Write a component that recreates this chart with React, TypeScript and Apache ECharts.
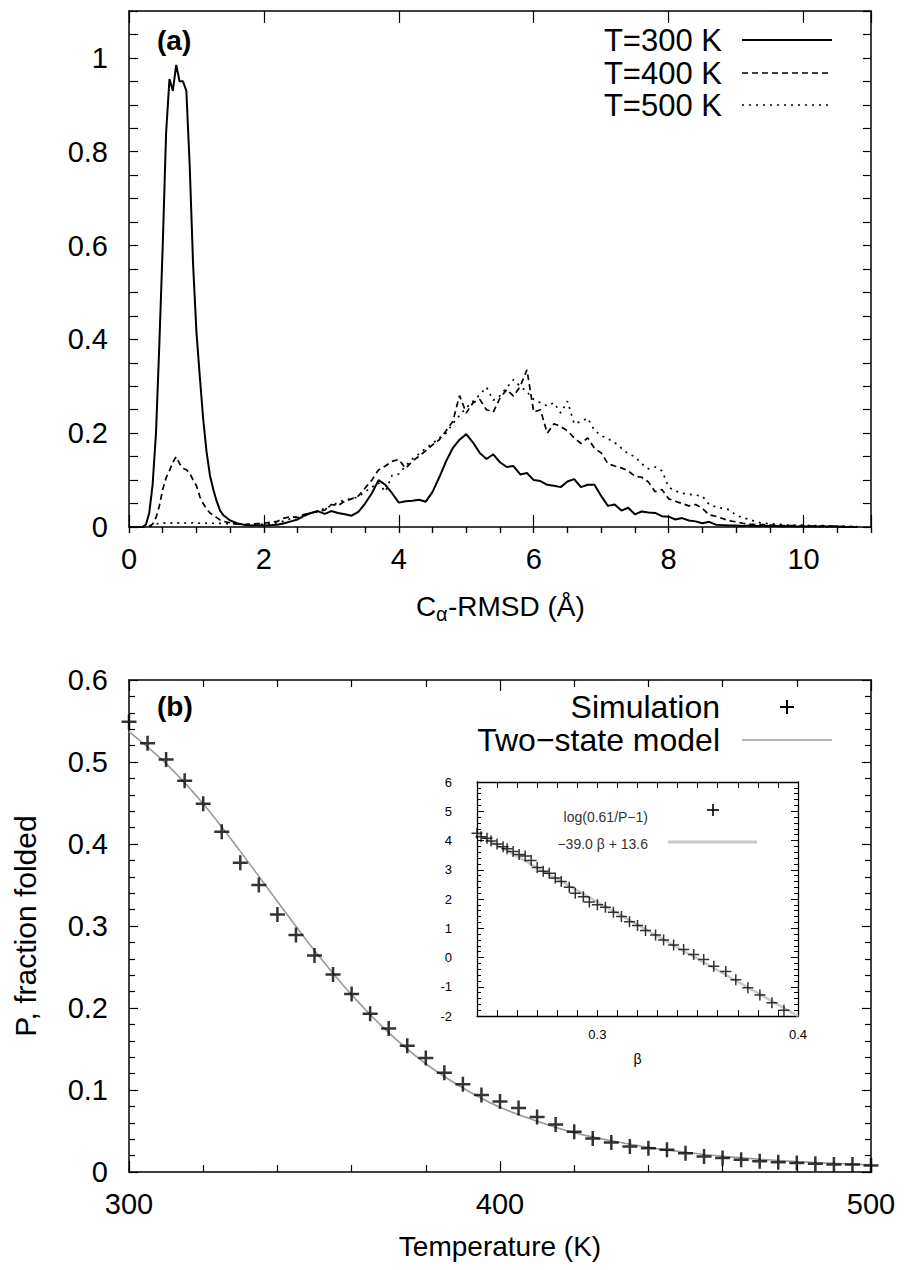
import React, { useEffect, useRef } from "react";
import * as echarts from "echarts";

// ---------- Panel (a): C-alpha RMSD distributions ----------
const rmsd = [
  0.0, 0.1, 0.2, 0.25, 0.3, 0.35, 0.4, 0.45, 0.5, 0.55, 0.6, 0.65, 0.7, 0.75, 0.8, 0.85, 0.9, 0.95,
  1.0, 1.05, 1.1, 1.15, 1.2, 1.25, 1.3, 1.35, 1.4,
  1.5, 1.6, 1.7, 1.8, 1.9, 2.0, 2.1, 2.2, 2.3, 2.4,
  2.5, 2.6, 2.7, 2.8, 2.9, 3.0, 3.1, 3.2, 3.3, 3.4,
  3.5, 3.6, 3.7, 3.8, 3.9, 4.0, 4.1, 4.2, 4.3, 4.4,
  4.5, 4.6, 4.7, 4.8, 4.9, 5.0, 5.1, 5.2, 5.3, 5.4,
  5.5, 5.6, 5.7, 5.8, 5.9, 6.0, 6.1, 6.2, 6.3, 6.4,
  6.5, 6.6, 6.7, 6.8, 6.9, 7.0, 7.1, 7.2, 7.3, 7.4,
  7.5, 7.6, 7.7, 7.8, 7.9, 8.0, 8.1, 8.2, 8.3, 8.4,
  8.5, 8.6, 8.7, 8.8, 8.9, 9.0, 9.1, 9.2, 9.3, 9.4,
  9.5, 9.6, 9.7, 9.8, 9.9, 10.0, 10.1, 10.2, 10.3, 10.4,
  10.5, 10.6, 10.7, 10.8,
];

const dist300 = [
  0, 0, 0, 0.005, 0.03, 0.09, 0.2, 0.39, 0.6, 0.84, 0.955, 0.93, 0.985, 0.95, 0.95, 0.93, 0.77, 0.56,
  0.415, 0.32, 0.23, 0.16, 0.11, 0.08, 0.055, 0.035, 0.025,
  0.014, 0.008, 0.005, 0.003, 0.004, 0.003, 0.004, 0.005, 0.008, 0.012,
  0.016, 0.024, 0.03, 0.034, 0.028, 0.034, 0.03, 0.027, 0.024, 0.032,
  0.05, 0.072, 0.1, 0.09, 0.072, 0.052, 0.055, 0.056, 0.058, 0.054,
  0.075, 0.106, 0.14, 0.168, 0.186, 0.198, 0.18, 0.158, 0.145, 0.155,
  0.138, 0.128, 0.13, 0.112, 0.115, 0.1, 0.098, 0.09, 0.088, 0.085,
  0.097, 0.102, 0.085, 0.09, 0.09, 0.066, 0.045, 0.048, 0.035, 0.041,
  0.027, 0.033, 0.031, 0.03, 0.023, 0.022, 0.016, 0.019, 0.014, 0.012,
  0.008, 0.011, 0.005, 0.004, 0.003, 0.003, 0.002, 0.003, 0.002, 0.002,
  0.002, 0.002, 0.001, 0.002, 0.001, 0.001, 0.001, 0.001, 0.001, 0.001,
  0.001, 0, 0, 0,
];

const dist400 = [
  0, 0, 0, 0, 0.002, 0.006, 0.02, 0.045, 0.08, 0.105, 0.12, 0.138, 0.15, 0.135, 0.125, 0.122, 0.115, 0.1,
  0.088, 0.065, 0.05, 0.039, 0.03, 0.025, 0.02, 0.015, 0.012,
  0.009, 0.006, 0.005, 0.006, 0.007, 0.008, 0.01, 0.012, 0.019, 0.022,
  0.02, 0.027, 0.03, 0.033, 0.036, 0.048, 0.046, 0.055, 0.06, 0.066,
  0.083, 0.1, 0.122, 0.13, 0.14, 0.144, 0.125, 0.14, 0.151, 0.163,
  0.175, 0.186, 0.205, 0.225, 0.28, 0.243, 0.265, 0.272, 0.25, 0.245,
  0.275, 0.293, 0.279, 0.3, 0.335, 0.245, 0.25, 0.2, 0.22, 0.214,
  0.205, 0.19, 0.178, 0.19, 0.168, 0.158, 0.135, 0.13, 0.126, 0.12,
  0.108, 0.106, 0.096, 0.075, 0.08, 0.06, 0.055, 0.05, 0.045, 0.048,
  0.04, 0.026, 0.023, 0.018, 0.013, 0.011, 0.008, 0.006, 0.005, 0.005,
  0.004, 0.004, 0.003, 0.003, 0.003, 0.002, 0.002, 0.002, 0.002, 0.002,
  0.001, 0.001, 0.001, 0,
];

const dist500 = [
  0, 0, 0, 0, 0.001, 0.003, 0.006, 0.008, 0.009, 0.008, 0.009, 0.008, 0.009, 0.008, 0.009, 0.008, 0.008, 0.009,
  0.008, 0.008, 0.009, 0.008, 0.008, 0.008, 0.007, 0.008, 0.007,
  0.007, 0.007, 0.006, 0.005, 0.005, 0.006, 0.007, 0.009, 0.013, 0.018,
  0.022, 0.026, 0.03, 0.033, 0.04, 0.045, 0.052, 0.058, 0.06, 0.064,
  0.075, 0.085, 0.094, 0.075, 0.11, 0.113, 0.13, 0.145, 0.156, 0.168,
  0.178, 0.19, 0.2, 0.22, 0.238, 0.254, 0.268, 0.282, 0.298, 0.27,
  0.28, 0.297, 0.314, 0.3, 0.288, 0.272, 0.265, 0.258, 0.265, 0.243,
  0.268, 0.22, 0.225, 0.232, 0.206, 0.195, 0.188, 0.18, 0.168, 0.156,
  0.15, 0.135, 0.124, 0.128, 0.12, 0.085, 0.077, 0.072, 0.07, 0.068,
  0.066, 0.048, 0.043, 0.04, 0.037, 0.025, 0.02, 0.016, 0.011, 0.008,
  0.007, 0.006, 0.005, 0.004, 0.004, 0.004, 0.003, 0.003, 0.003, 0.002,
  0.002, 0.002, 0.001, 0.001,
];

// ---------- Panel (b): fraction folded vs temperature ----------
const temps = [
  300, 305, 310, 315, 320, 325, 330, 335, 340, 345, 350,
  355, 360, 365, 370, 375, 380, 385, 390, 395, 400,
  405, 410, 415, 420, 425, 430, 435, 440, 445, 450,
  455, 460, 465, 470, 475, 480, 485, 490, 495, 500,
];
const fracFolded = [
  0.549, 0.523, 0.503, 0.477, 0.449, 0.415, 0.377, 0.35, 0.314, 0.289, 0.264,
  0.241, 0.217, 0.193, 0.175, 0.154, 0.139, 0.121, 0.107, 0.094, 0.086,
  0.078, 0.067, 0.058, 0.049, 0.041, 0.036, 0.031, 0.029, 0.027, 0.023,
  0.019, 0.017, 0.015, 0.013, 0.012, 0.011, 0.01, 0.009, 0.009, 0.008,
];
const modelTemps = [300, 310, 320, 330, 340, 350, 360, 370, 380, 390, 400, 410, 420, 430, 440, 450, 460, 470, 480, 490, 500];
const modelFrac = [
  0.537, 0.498, 0.449, 0.391, 0.33, 0.27, 0.216, 0.17, 0.132, 0.1025, 0.079,
  0.062, 0.048, 0.038, 0.03, 0.024, 0.019, 0.0156, 0.0127, 0.0105, 0.0087,
];

// ---------- Inset: log(0.61/P-1) vs beta ----------
const beta = [
  0.24, 0.242, 0.245, 0.247, 0.25, 0.253, 0.255, 0.258, 0.261, 0.264,
  0.267, 0.27, 0.273, 0.276, 0.279, 0.282, 0.286, 0.289, 0.293, 0.296,
  0.3, 0.304, 0.308, 0.312, 0.316, 0.32, 0.324, 0.329, 0.333, 0.338,
  0.343, 0.348, 0.353, 0.358, 0.364, 0.369, 0.375, 0.381, 0.387, 0.393,
];
const logRatio = [
  4.25, 4.13, 4.08, 3.98, 3.88, 3.79, 3.72, 3.62, 3.52, 3.47,
  3.32, 3.08, 2.95, 2.88, 2.72, 2.6, 2.4, 2.2, 2.08, 1.9,
  1.8, 1.72, 1.55, 1.4, 1.22, 1.09, 0.92, 0.77, 0.6, 0.43,
  0.27, 0.1, -0.07, -0.3, -0.48, -0.76, -1.03, -1.28, -1.55, -1.8,
];
const fitBeta = [0.24, 0.4];
const fitValue = [4.24, -2.0];

const legendA = ["T=300 K", "T=400 K", "T=500 K"];
const legendB = ["Simulation", "Two\u2212state model"];
const legendInset = ["log(0.61/P\u22121)", "\u221239.0 \u03b2 + 13.6"];

const FONT = "'Liberation Sans', Arial, Helvetica, sans-serif";
const BLACK = "#000";

const zip = (xs: number[], ys: number[]) => xs.map((x, i) => [x, ys[i]]);

const PLUS_BIG = "path://M6.25,0h2.5v15h-2.5z M0,6.25h15v2.5h-15z";
const PLUS_SMALL = "path://M4.75,0h1.5v11h-1.5z M0,4.75h11v1.5h-11z";

function baseAxis(extra: any) {
  return {
    type: "value",
    splitLine: { show: false },
    axisLine: { show: true, onZero: false, lineStyle: { color: BLACK, width: 1.5 } },
    axisLabel: { show: false },
    ...extra,
  };
}
const tk = (length: number, width = 1.2) => ({ show: true, inside: true, length, lineStyle: { color: BLACK, width } });
const mtk = (splitNumber: number, length: number, width = 1.2) => ({ show: true, splitNumber, length, lineStyle: { color: BLACK, width } });
const thinLine = { show: true, onZero: false, lineStyle: { color: BLACK, width: 1.3 } };

function buildOption() {
  const labelStyle = { color: BLACK, fontSize: 29, fontFamily: FONT };

  const xAxis: any[] = [
    // 0..3: panel (a), all with the same 0..11 scale
    baseAxis({
      gridIndex: 0, min: 0, max: 11, interval: 2,
      axisTick: tk(12),
      axisLabel: { show: true, ...labelStyle, margin: 17, formatter: (v: number) => (v > 10.5 ? "" : String(v)) },
    }),
    baseAxis({ gridIndex: 0, min: 0, max: 11, interval: 0.5, axisLine: { show: false }, axisTick: tk(6) }),
    baseAxis({ gridIndex: 0, position: "top", min: 0, max: 11, interval: 2, axisTick: tk(12) }),
    baseAxis({ gridIndex: 0, position: "top", min: 0, max: 11, interval: 0.5, axisLine: { show: false }, axisTick: tk(6) }),
    // 4,5: panel (b)
    baseAxis({
      gridIndex: 1, min: 300, max: 500, interval: 100,
      axisTick: tk(11),
      minorTick: mtk(5, 7),
      axisLabel: { show: true, ...labelStyle, margin: 17 },
      name: "Temperature (K)",
      nameLocation: "middle",
      nameGap: 60,
      nameTextStyle: { color: BLACK, fontFamily: FONT, fontSize: 28 },
    }),
    baseAxis({ gridIndex: 1, position: "top", min: 300, max: 500, interval: 100, axisTick: tk(11), minorTick: mtk(5, 7) }),
    // 6,7: inset
    baseAxis({
      gridIndex: 2, min: 0.24, max: 0.4, interval: 0.01,
      axisLine: thinLine,
      axisTick: tk(6, 1),
      axisLabel: {
        show: true, color: BLACK, fontSize: 13, fontFamily: FONT, margin: 12,
        formatter: (v: number) => (Math.abs(v - 0.3) < 1e-6 ? "0.3" : Math.abs(v - 0.4) < 1e-6 ? "0.4" : ""),
      },
      name: "\u03b2",
      nameLocation: "middle",
      nameGap: 36,
      nameTextStyle: { color: BLACK, fontFamily: FONT, fontSize: 14 },
    }),
    baseAxis({ gridIndex: 2, position: "top", min: 0.24, max: 0.4, interval: 0.01, axisLine: thinLine, axisTick: tk(6, 1) }),
  ];

  const yAxis: any[] = [
    baseAxis({
      gridIndex: 0, min: 0, max: 1.1, interval: 0.05,
      axisTick: tk(9),
      axisLabel: {
        show: true, ...labelStyle, margin: 21,
        formatter: (v: number) => {
          const r = Math.round(v * 20);
          return r % 4 !== 0 ? "" : String(r / 20);
        },
      },
    }),
    baseAxis({ gridIndex: 0, position: "right", min: 0, max: 1.1, interval: 0.05, axisTick: tk(8) }),
    baseAxis({
      gridIndex: 1, min: 0, max: 0.6, interval: 0.1,
      axisTick: tk(9),
      minorTick: mtk(5, 6),
      axisLabel: { show: true, ...labelStyle, margin: 21 },
      name: "P, fraction folded",
      nameLocation: "middle",
      nameRotate: 90,
      nameGap: 89,
      nameTextStyle: { color: BLACK, fontFamily: FONT, fontSize: 30 },
    }),
    baseAxis({ gridIndex: 1, position: "right", min: 0, max: 0.6, interval: 0.1, axisTick: tk(9), minorTick: mtk(5, 6) }),
    baseAxis({
      gridIndex: 2, min: -2, max: 6, interval: 1,
      axisLine: thinLine,
      axisTick: tk(7, 1),
      minorTick: mtk(5, 4, 1),
      axisLabel: { show: true, color: BLACK, fontSize: 13, fontFamily: FONT, margin: 25 },
    }),
    baseAxis({ gridIndex: 2, position: "right", min: -2, max: 6, interval: 1, axisLine: thinLine, axisTick: tk(7, 1), minorTick: mtk(5, 4, 1) }),
  ];

  // Every axis carries data; axes sharing a grid have identical scales, so positions are unchanged.
  const series: any[] = [
    { type: "line", xAxisIndex: 1, yAxisIndex: 1, data: zip(rmsd, dist500), symbol: "none", lineStyle: { color: BLACK, width: 1.7, type: [2, 5] }, z: 2 },
    { type: "line", xAxisIndex: 2, yAxisIndex: 0, data: zip(rmsd, dist400), symbol: "none", lineStyle: { color: BLACK, width: 1.7, type: [6, 4] }, z: 3 },
    { type: "line", xAxisIndex: 0, yAxisIndex: 0, data: zip(rmsd, dist300), symbol: "none", lineStyle: { color: BLACK, width: 2 }, z: 4 },
    { type: "line", xAxisIndex: 3, yAxisIndex: 1, data: zip(rmsd, dist300), symbol: "none", silent: true, lineStyle: { color: BLACK, width: 2, opacity: 0 }, z: 1 },
    { type: "line", xAxisIndex: 5, yAxisIndex: 3, data: zip(modelTemps, modelFrac), symbol: "none", smooth: 0.3, lineStyle: { color: "#9a9a9a", width: 1.6 }, z: 2 },
    { type: "scatter", xAxisIndex: 4, yAxisIndex: 2, data: zip(temps, fracFolded), symbol: PLUS_BIG, symbolSize: 15, itemStyle: { color: BLACK }, clip: false, z: 4 },
    { type: "line", xAxisIndex: 7, yAxisIndex: 5, data: zip(fitBeta, fitValue), symbol: "none", lineStyle: { color: "#c8c8c8", width: 2.5 }, z: 2 },
    { type: "scatter", xAxisIndex: 6, yAxisIndex: 4, data: zip(beta, logRatio), symbol: PLUS_SMALL, symbolSize: 11, itemStyle: { color: BLACK }, clip: false, z: 4 },
  ];

  const txt = (text: string, x: number, y: number, size: number, align: string, extra: any = {}) => ({
    type: "text",
    x, y,
    style: { text, fill: BLACK, fontSize: size, fontFamily: FONT, align, verticalAlign: "middle", ...extra },
  });
  const seg = (x1: number, y1: number, x2: number, y2: number, stroke: string, lineWidth: number, lineDash?: number[]) => ({
    type: "line",
    shape: { x1, y1, x2, y2 },
    style: lineDash ? { stroke, lineWidth, lineDash } : { stroke, lineWidth },
  });
  const plus = (cx: number, cy: number, half: number, w: number) => [
    seg(cx - half, cy, cx + half, cy, BLACK, w),
    seg(cx, cy - half, cx, cy + half, BLACK, w),
  ];

  const graphic: any[] = [
    txt("(a)", 157, 40, 28, "left", { fontWeight: "bold" }),
    txt("(b)", 157, 706, 28, "left", { fontWeight: "bold" }),
    txt("C", 416, 606, 28, "left"),
    txt("\u03b1", 436, 614, 20, "left"),
    txt("-RMSD (\u00c5)", 448, 606, 28, "left"),
    txt(legendA[0], 722, 40, 31, "right"),
    txt(legendA[1], 722, 73, 31, "right"),
    txt(legendA[2], 722, 105, 31, "right"),
    seg(742, 40, 832, 40, BLACK, 2),
    seg(742, 73, 832, 73, BLACK, 1.7, [6, 4]),
    seg(742, 105, 832, 105, BLACK, 1.7, [2, 5]),
    txt(legendB[0], 720, 707, 32, "right"),
    txt(legendB[1], 720, 740, 32, "right"),
    ...plus(787, 707, 7, 2),
    seg(742, 740, 832, 740, "#9a9a9a", 1.6),
    txt(legendInset[0], 648, 817, 14, "right", { fill: "#333" }),
    txt(legendInset[1], 648, 844, 14, "right", { fill: "#333" }),
    ...plus(713, 810, 6, 1.6),
    seg(668, 842, 757, 842, "#c8c8c8", 3),
  ];

  return {
    animation: false,
    backgroundColor: "#fff",
    textStyle: { fontFamily: FONT },
    grid: [
      { left: 129, top: 11, width: 742, height: 516 },
      { left: 129, top: 680, width: 742, height: 492 },
      { left: 477, top: 782, width: 321, height: 234 },
    ],
    xAxis,
    yAxis,
    series,
    graphic,
  };
}

export default function App() {
  const ref = useRef<HTMLDivElement>(null);
  useEffect(() => {
    document.body.style.margin = "0";
    const chart = echarts.init(ref.current as HTMLDivElement, null, { renderer: "svg" });
    chart.setOption(buildOption() as any);
    return () => {
      chart.dispose();
    };
  }, []);
  return (
    <div
      ref={ref}
      style={{ position: "absolute", left: 0, top: 0, width: 905, height: 1270, background: "#fff" }}
    />
  );
}
